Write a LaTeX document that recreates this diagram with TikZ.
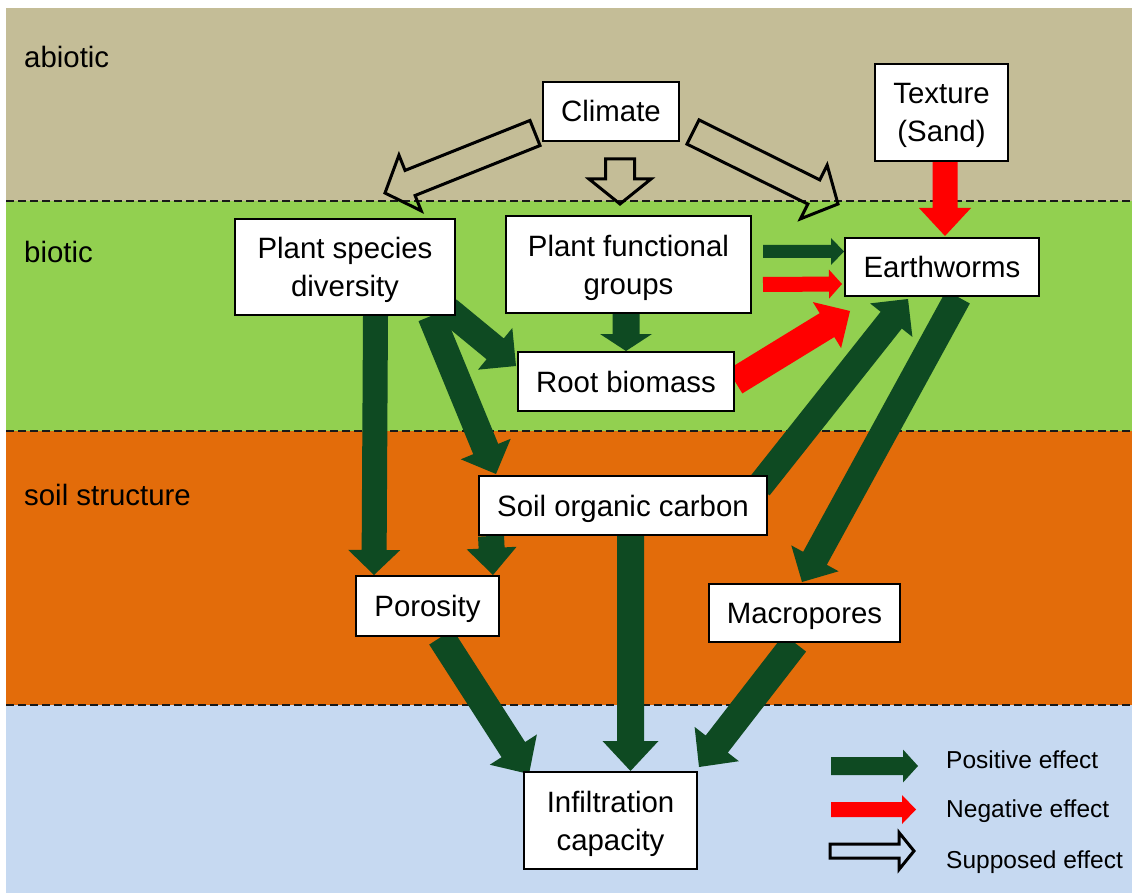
\documentclass[tikz,border=0pt]{standalone}
\usepackage{fontspec}
\setmainfont{Liberation Sans}
\usetikzlibrary{calc}
\pgfdeclarelayer{bands}
\pgfdeclarelayer{arrows}
\pgfsetlayers{bands,arrows,main}
\definecolor{tanbg}{HTML}{C4BD97}
\definecolor{greenbg}{HTML}{92D050}
\definecolor{orangebg}{HTML}{E36C0A}
\definecolor{bluebg}{HTML}{C6D9F1}
\definecolor{dkgreen}{HTML}{0E4A22}
\definecolor{negred}{HTML}{FF0000}
\newcommand\nodefont{\fontsize{29.4}{38}\selectfont}
\newcommand\legfont{\fontsize{24.5}{29}\selectfont}
\tikzset{
  blk/.style n args={3}{to path={
    ($(\tikztostart)!#1!90:(\tikztotarget)$)
    -- ($(\tikztotarget)!#3!(\tikztostart)!#1!90:(\tikztotarget)$)
    -- ($(\tikztotarget)!#3!(\tikztostart)!#2!90:(\tikztotarget)$)
    -- (\tikztotarget)
    -- ($(\tikztotarget)!#3!(\tikztostart)!#2!-90:(\tikztotarget)$)
    -- ($(\tikztotarget)!#3!(\tikztostart)!#1!-90:(\tikztotarget)$)
    -- ($(\tikztostart)!#1!-90:(\tikztotarget)$)
    -- cycle}},
  posfx/.style={fill=dkgreen, blk={13.5pt}{27pt}{27pt}},
  negfx/.style={fill=negred, blk={13.5pt}{27pt}{28pt}},
  supfx/.style={draw=black, line width=3pt, fill=none, blk={13.5pt}{30pt}{27pt}},
  box/.style={draw=black, line width=2pt, fill=white, inner sep=0pt,
    font=\nodefont, align=center},
  oneline/.style={text height=21pt, text depth=0pt},
  twoline/.style={text depth=0pt},
  layerlabel/.style={anchor=base west, inner sep=0pt, font=\nodefont},
  legtext/.style={anchor=base west, inner sep=0pt, font=\legfont},
  sepline/.style={line width=2.5pt, dash pattern=on 7.5pt off 4.5pt, draw=black!90}
}
\begin{document}
\begin{tikzpicture}[x=1pt, y=-1pt]
\useasboundingbox (0,0) rectangle (1132,893);
\begin{pgfonlayer}{bands}
  \fill[white] (0,0) rectangle (1132,893);
  \fill[tanbg] (6,8) rectangle (1132,201);
  \fill[greenbg] (6,201) rectangle (1132,431);
  \fill[orangebg] (6,431) rectangle (1132,705);
  \fill[bluebg] (6,705) rectangle (1132,893);
  \draw[sepline] (6,201) -- (1132,201);
  \draw[sepline] (6,431) -- (1132,431);
  \draw[sepline] (6,705) -- (1132,705);
\end{pgfonlayer}

% layer labels
\node[layerlabel] (labA) at (24,68) {abiotic};
\node[layerlabel] (labB) at (24,262) {biotic};
\node[layerlabel] (labC) at (24,505) {soil structure};

% boxes
\node[box, oneline, minimum width=136pt, minimum height=59pt] (climate) at (611,111.5) {Climate};
\node[box, twoline, minimum width=133pt, minimum height=97pt] (texture) at (941.5,112.5) {Texture\\(Sand)};
\node[box, twoline, minimum width=220pt, minimum height=96pt] (psd) at (345,267) {Plant species\\diversity};
\node[box, twoline, minimum width=245pt, minimum height=97pt] (pfg) at (628.5,264.5) {Plant functional\\groups};
\node[box, oneline, minimum width=194pt, minimum height=58pt] (ew) at (942,267) {Earthworms};
\node[box, oneline, minimum width=216pt, minimum height=59pt] (root) at (626,381.5) {Root biomass};
\node[box, oneline, minimum width=288pt, minimum height=59pt] (soc) at (623,505.5) {Soil organic carbon};
\node[box, oneline, minimum width=143pt, minimum height=60pt] (por) at (427.5,606) {Porosity};
\node[box, oneline, minimum width=191pt, minimum height=58pt] (mac) at (804.5,613) {Macropores};
\node[box, twoline, minimum width=173pt, minimum height=97pt] (inf) at (610.5,820.5) {Infiltration\\capacity};

% legend
\coordinate (lgAa) at (831,766); \coordinate (lgAb) at (918,766);
\coordinate (lgBa) at (831,809.5); \coordinate (lgBb) at (916,809.5);
\coordinate (lgCa) at (830,851); \coordinate (lgCb) at (914,851);
\node[legtext] (legA) at (946,768) {Positive effect};
\node[legtext] (legB) at (946,817) {Negative effect};
\node[legtext] (legC) at (946,868) {Supposed effect};

\begin{pgfonlayer}{arrows}
  % supposed effects
  \path[supfx] ([xshift=-7pt,yshift=9pt]climate.south west) to ([xshift=40pt,yshift=25pt]psd.north);
  \path[supfx, blk={14.5pt}{31pt}{25pt}] ([xshift=9pt,yshift=-17pt]climate.south) to ([xshift=-8.5pt,yshift=11pt]pfg.north);
  \path[supfx] ([xshift=13pt,yshift=10pt]climate.south east) to ([xshift=-6pt,yshift=33pt]ew.north west);
  % negative effects
  \path[negfx, blk={12.5pt}{26pt}{28pt}] ([xshift=3.5pt]texture.south) to ([xshift=3pt,yshift=1pt]ew.north);
  \path[negfx, blk={7.5pt}{14.5pt}{13pt}] ([xshift=11pt,yshift=-20pt]pfg.east) to ([xshift=-2pt,yshift=-17pt]ew.west);
  \path[negfx, blk={14pt}{27pt}{27pt}] (root.east) to ([xshift=6pt,yshift=-14pt]ew.south west);
  % positive effects
  \path[posfx, blk={6.5pt}{13.5pt}{13pt}] ([xshift=11pt,yshift=13pt]pfg.east) to ([yshift=15.5pt]ew.west);
  \path[posfx, blk={13.5pt}{26pt}{17pt}] ([xshift=-2.5pt]pfg.south) to (root.north);
  \path[posfx] ([xshift=-8pt,yshift=6pt]psd.south east) to ([xshift=-1pt,yshift=15.5pt]root.west);
  \path[posfx] ([xshift=86pt]psd.south) to ([xshift=18pt,yshift=1pt]soc.north west);
  \path[posfx, blk={12.5pt}{26pt}{25pt}] ([xshift=30.5pt]psd.south) to ([xshift=19pt]por.north west);
  \path[posfx, blk={13pt}{25pt}{27pt}] ([xshift=13pt]soc.south west) to ([xshift=-7pt]por.north east);
  \path[posfx, blk={13.5pt}{28pt}{30pt}] ([xshift=7.5pt]soc.south) to ([xshift=20pt]inf.north);
  \path[posfx, blk={14pt}{28pt}{29pt}] ([xshift=13.5pt]por.south) to ([xshift=6pt,yshift=-3pt]inf.north west);
  \path[posfx, blk={14pt}{28pt}{29pt}] ([xshift=-9.5pt]mac.south) to ([xshift=1pt,yshift=4pt]inf.north east);
  \path[posfx] ([xshift=-9pt,yshift=-12pt]soc.north east) to ([xshift=-34pt,yshift=-2pt]ew.south);
  \path[posfx] ([xshift=16pt]ew.south) to ([xshift=-2.5pt,yshift=1pt]mac.north);
  % legend arrows
  \path[posfx, blk={9pt}{16.5pt}{15pt}] (lgAa) to (lgAb);
  \path[negfx, blk={7.5pt}{14.5pt}{14pt}] (lgBa) to (lgBb);
  \path[supfx, blk={7pt}{18.5pt}{15pt}] (lgCa) to (lgCb);
\end{pgfonlayer}
\end{tikzpicture}
\end{document}
